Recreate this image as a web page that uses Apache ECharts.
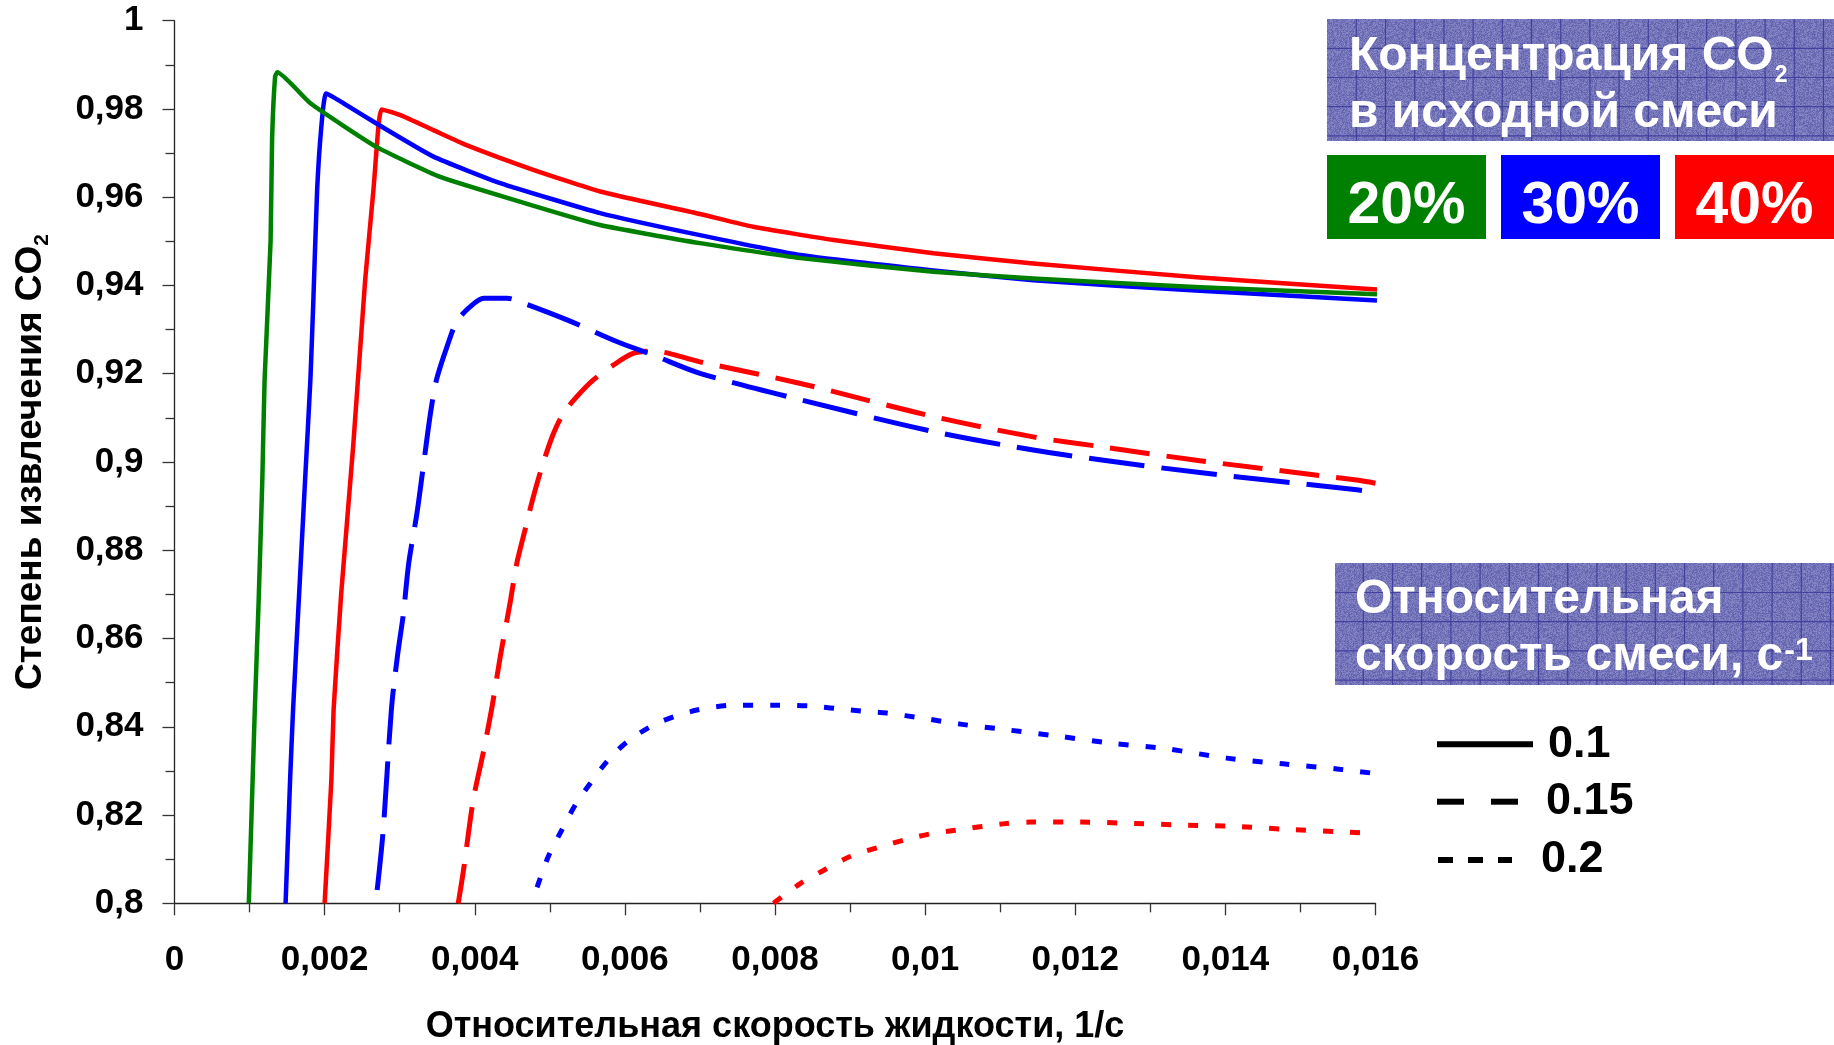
<!DOCTYPE html>
<html>
<head>
<meta charset="utf-8">
<script src="https://cdn.jsdelivr.net/npm/echarts@6/dist/echarts.min.js"></script>
<style>
  html, body { margin: 0; padding: 0; background: #fff; }
  #chart { width: 1834px; height: 1045px; }
</style>
</head>
<body>
<div id="chart"></div>
<script>
// Степень извлечения CO2 в зависимости от относительной скорости жидкости

// Tick labels
const xTickLabels = ['0', '0,002', '0,004', '0,006', '0,008', '0,01', '0,012', '0,014', '0,016'];
const yTickLabels = ['0,8', '0,82', '0,84', '0,86', '0,88', '0,9', '0,92', '0,94', '0,96', '0,98', '1'];

// 20% CO2, скорость смеси 0.1 1/с
const c20_v010_x = [0.00099, 0.00107, 0.00112, 0.00117, 0.00120, 0.00128, 0.00130, 0.00134, 0.00137, 0.00181, 0.00269, 0.00354, 0.00460, 0.00567, 0.00700, 0.00834, 0.01011, 0.01144, 0.01366, 0.01602];
const c20_v010_y = [0.800, 0.844, 0.868, 0.896, 0.9185, 0.950, 0.973, 0.9873, 0.9883, 0.9813, 0.9714, 0.9646, 0.9590, 0.9537, 0.9496, 0.9462, 0.9431, 0.9416, 0.9396, 0.9380];

// 30% CO2, 0.1
const c30_v010_x = [0.00148, 0.00154, 0.00158, 0.00166, 0.00174, 0.00181, 0.00185, 0.00190, 0.00196, 0.00202, 0.00225, 0.00269, 0.00345, 0.00434, 0.00567, 0.00700, 0.00834, 0.01011, 0.01144, 0.01366, 0.01602];
const c30_v010_y = [0.800, 0.828, 0.844, 0.870, 0.896, 0.9185, 0.9367, 0.9616, 0.9767, 0.9835, 0.9813, 0.9767, 0.9692, 0.9632, 0.9564, 0.9514, 0.9469, 0.9434, 0.9412, 0.9388, 0.9366];

// 40% CO2, 0.1
const c40_v010_x = [0.00200, 0.00209, 0.00212, 0.00222, 0.00238, 0.00254, 0.00265, 0.00272, 0.00276, 0.00301, 0.00345, 0.00389, 0.00478, 0.00567, 0.00700, 0.00771, 0.00878, 0.01011, 0.01144, 0.01366, 0.01602];
const c40_v010_y = [0.800, 0.828, 0.844, 0.870, 0.9035, 0.9412, 0.9616, 0.9767, 0.9799, 0.9786, 0.9752, 0.9718, 0.9662, 0.9613, 0.9562, 0.9533, 0.9503, 0.9473, 0.9450, 0.9418, 0.9391];

// 30% CO2, 0.15
const c30_v015_x = [0.00270, 0.00278, 0.00289, 0.00297, 0.00305, 0.00312, 0.00323, 0.00332, 0.00341, 0.00349, 0.00363, 0.00376, 0.00394, 0.00412, 0.00443, 0.00465, 0.00523, 0.00589, 0.00638, 0.00700, 0.00834, 0.01011, 0.01144, 0.01233, 0.01366, 0.01575, 0.01600];
const c30_v015_y = [0.803, 0.8165, 0.844, 0.856, 0.8657, 0.877, 0.8884, 0.8997, 0.911, 0.9186, 0.9261, 0.9318, 0.9352, 0.9371, 0.9371, 0.9360, 0.9322, 0.9273, 0.9242, 0.9201, 0.9141, 0.9069, 0.9027, 0.9005, 0.8976, 0.8937, 0.8932];

// 40% CO2, 0.15
const c40_v015_x = [0.00378, 0.00385, 0.00398, 0.00412, 0.00423, 0.00434, 0.00447, 0.00456, 0.00467, 0.00478, 0.00491, 0.00505, 0.00518, 0.00536, 0.00558, 0.00585, 0.00611, 0.00638, 0.00700, 0.00834, 0.01011, 0.01144, 0.01233, 0.01366, 0.01575, 0.01600];
const c40_v015_y = [0.800, 0.8075, 0.8234, 0.8347, 0.8445, 0.8559, 0.868, 0.877, 0.8846, 0.8921, 0.8997, 0.9065, 0.911, 0.9148, 0.9186, 0.922, 0.9246, 0.9251, 0.9227, 0.9178, 0.9103, 0.9057, 0.9035, 0.9003, 0.8959, 0.8952];

// 30% CO2, 0.2
const c30_v020_x = [0.00483, 0.00498, 0.00516, 0.00534, 0.00554, 0.00576, 0.00603, 0.00643, 0.00696, 0.00749, 0.00798, 0.00847, 0.00900, 0.00949, 0.00998, 0.01047, 0.01100, 0.01176, 0.01247, 0.01322, 0.01402, 0.01477, 0.01551, 0.01600];
const c30_v020_y = [0.8036, 0.8106, 0.8166, 0.8223, 0.8272, 0.8321, 0.8366, 0.8408, 0.8438, 0.8449, 0.8449, 0.8447, 0.8438, 0.8431, 0.8419, 0.8406, 0.8395, 0.8379, 0.8363, 0.8350, 0.8329, 0.8316, 0.8304, 0.8294];

// 40% CO2, 0.2
const c40_v020_x = [0.00798, 0.00834, 0.00865, 0.00900, 0.00940, 0.00976, 0.01006, 0.01042, 0.01104, 0.01140, 0.01207, 0.01278, 0.01351, 0.01406, 0.01477, 0.01553, 0.01600];
const c40_v020_y = [0.800, 0.8045, 0.8075, 0.8106, 0.8128, 0.8145, 0.8157, 0.8166, 0.8180, 0.8184, 0.8184, 0.8181, 0.8177, 0.8175, 0.8168, 0.8162, 0.8158];

const FONT = '"Liberation Sans", Arial, sans-serif';
const GREEN = '#008000', BLUE = '#0000ff', RED = '#ff0000';

function pairs(xs, ys) { return xs.map((x, i) => [x, ys[i]]); }

const curves = [
  { name: '40% / 0.2',  color: RED,   dash: [10, 17], data: pairs(c40_v020_x, c40_v020_y), smooth: 0.3, width: 5 },
  { name: '30% / 0.2',  color: BLUE,  dash: [10, 17], data: pairs(c30_v020_x, c30_v020_y), smooth: 0.3, width: 5 },
  { name: '40% / 0.15', color: RED,   dash: [40, 17], data: pairs(c40_v015_x, c40_v015_y), smooth: 0.3, width: 5 },
  { name: '30% / 0.15', color: BLUE,  dash: [56, 17], data: pairs(c30_v015_x, c30_v015_y), smooth: 0.3, width: 5 },
  { name: '40% / 0.1',  color: RED,   dash: 'solid', data: pairs(c40_v010_x, c40_v010_y), smooth: 0.15, width: 4.5 },
  { name: '30% / 0.1',  color: BLUE,  dash: 'solid', data: pairs(c30_v010_x, c30_v010_y), smooth: 0.15, width: 4.5 },
  { name: '20% / 0.1',  color: GREEN, dash: 'solid', data: pairs(c20_v010_x, c20_v010_y), smooth: 0.15, width: 4.5 }
];

const series = curves.map((c, i) => ({
  name: c.name,
  type: 'line',
  data: c.data,
  showSymbol: false,
  smooth: c.smooth,
  z: 2 + i,
  lineStyle: { color: c.color, width: c.width, type: c.dash, cap: 'butt', join: 'round' }
}));

// ---- legend panels (drawn with graphic elements) ----
const graphics = [];
const PANEL_GRID = '#3a3a9a';

// grainy lavender fill for the panels (deterministic hash grain)
function panelTexture() {
  const size = 128;
  const c = document.createElement('canvas');
  c.width = c.height = size;
  const ctx = c.getContext('2d');
  const img = ctx.createImageData(size, size);
  for (let j = 0; j < size; j++) {
    for (let i = 0; i < size; i++) {
      let h = Math.imul(i, 374761393) ^ Math.imul(j, 668265263);
      h = Math.imul(h ^ (h >>> 13), 1274126177);
      h = h ^ (h >>> 16);
      const n = ((h & 255) / 255 - 0.5) * 44;
      const k = (j * size + i) * 4;
      img.data[k] = 116 + n;
      img.data[k + 1] = 116 + n;
      img.data[k + 2] = 186 + n * 0.7;
      img.data[k + 3] = 255;
    }
  }
  ctx.putImageData(img, 0, 0);
  return c;
}
const panelFill = { image: panelTexture(), repeat: 'repeat' };

const measureCtx = document.createElement('canvas').getContext('2d');
function textWidth(txt, size) {
  measureCtx.font = 'bold ' + size + 'px ' + FONT;
  return measureCtx.measureText(txt).width;
}

function panel(x, y, w, h, step, ox, oy) {
  graphics.push({ type: 'rect', silent: true, shape: { x, y, width: w, height: h }, style: { fill: panelFill } });
  for (let gx = x + ox; gx < x + w; gx += step) {
    graphics.push({ type: 'line', silent: true, shape: { x1: gx, y1: y, x2: gx, y2: y + h }, style: { stroke: PANEL_GRID, lineWidth: 1.2, opacity: 0.85 } });
  }
  for (let gy = y + oy; gy < y + h; gy += step) {
    graphics.push({ type: 'line', silent: true, shape: { x1: x, y1: gy, x2: x + w, y2: gy }, style: { stroke: PANEL_GRID, lineWidth: 1.2, opacity: 0.85 } });
  }
}

// text placed by its baseline
function plainText(txt, x, baseline, size, color, align) {
  graphics.push({
    type: 'text', silent: true, x: x, y: baseline - 0.3465 * size,
    style: {
      text: txt, fill: color, font: 'bold ' + size + 'px ' + FONT,
      align: align || 'left', textAlign: align || 'left',
      verticalAlign: 'middle', textVerticalAlign: 'middle'
    }
  });
}

// panel: концентрация CO2
const PANEL_FS = 48;
panel(1327, 19, 507, 122, 29.2, 29.3, 29.3);
const line1 = 'Концентрация CO';
plainText(line1, 1349, 73, PANEL_FS, '#fff');
plainText('2', 1349 + textWidth(line1, PANEL_FS) + 1, 84, 23, '#fff');
plainText('в исходной смеси', 1349, 130, PANEL_FS, '#fff');

// colour swatches
const swatchLabels = ['20%', '30%', '40%'];
const swatchColors = [GREEN, BLUE, RED];
const swatchX = [1327, 1501, 1675];
swatchLabels.forEach((lab, i) => {
  graphics.push({ type: 'rect', silent: true, shape: { x: swatchX[i], y: 155, width: 159, height: 84 }, style: { fill: swatchColors[i] } });
  plainText(lab, swatchX[i] + 79.5, 227, 59, '#fff', 'center');
});

// panel: относительная скорость смеси
panel(1335, 563, 499, 122, 29.2, 28.3, 29.5);
plainText('Относительная', 1355, 616, PANEL_FS, '#fff');
const line2 = 'скорость смеси, с';
plainText(line2, 1355, 673, PANEL_FS, '#fff');
plainText('-1', 1355 + textWidth(line2, PANEL_FS) + 1, 662, 32, '#fff');

// line-style key
const keyLabels = ['0.1', '0.15', '0.2'];
const keySegments = [
  [[1437, 1533]],
  [[1437, 1464], [1491, 1518]],
  [[1438, 1453], [1468, 1483], [1498, 1512]]
];
const keyY = [744.3, 801.7, 860];
const keyTextX = [1548, 1546, 1541];
const keyBaseline = [760, 817, 875];
keyLabels.forEach((lab, i) => {
  keySegments[i].forEach(seg => {
    graphics.push({ type: 'line', silent: true, shape: { x1: seg[0], y1: keyY[i], x2: seg[1], y2: keyY[i] }, style: { stroke: '#000', lineWidth: 6 } });
  });
  plainText(lab, keyTextX[i], keyBaseline[i], 45, '#000');
});

const axisCommon = {
  type: 'value',
  axisLine: { show: true, onZero: false, lineStyle: { color: '#222', width: 1.3 } },
  axisTick: { show: true, length: 12, lineStyle: { color: '#333', width: 1.3 } },
  minorTick: { show: true, splitNumber: 2, length: 9, lineStyle: { color: '#333', width: 1.3 } },
  splitLine: { show: false },
  minorSplitLine: { show: false }
};

const option = {
  animation: false,
  backgroundColor: '#fff',
  grid: { left: 174.5, right: 458.5, top: 20.7, bottom: 141.7, containLabel: false, outerBoundsMode: 'none' },
  xAxis: Object.assign({}, axisCommon, {
    min: 0, max: 0.016, interval: 0.002,
    axisLabel: {
      margin: 40, fontSize: 35, fontWeight: 'bold', fontFamily: FONT, color: '#000',
      formatter: v => xTickLabels[Math.round(v / 0.002)]
    },
    name: 'Относительная скорость жидкости, 1/с',
    nameLocation: 'middle', nameGap: 106,
    nameTextStyle: { fontSize: 36, lineHeight: 36, fontWeight: 'bold', fontFamily: FONT, color: '#000' }
  }),
  yAxis: Object.assign({}, axisCommon, {
    min: 0.8, max: 1, interval: 0.02,
    axisLabel: {
      margin: 31, fontSize: 35, fontWeight: 'bold', fontFamily: FONT, color: '#000',
      formatter: v => yTickLabels[Math.round((v - 0.8) / 0.02)]
    },
    name: '{m|Степень извлечения CO}{s|2}',
    nameLocation: 'middle', nameGap: 122, nameRotate: 90,
    nameTextStyle: {
      rich: {
        m: { fontSize: 37, fontWeight: 'bold', fontFamily: FONT, color: '#000', lineHeight: 44 },
        s: { fontSize: 21, fontWeight: 'bold', fontFamily: FONT, color: '#000', lineHeight: 22, verticalAlign: 'bottom' }
      }
    }
  }),
  series: series,
  graphic: { elements: graphics }
};

const chart = echarts.init(document.getElementById('chart'), null, { renderer: 'canvas' });
chart.setOption(option);
</script>
</body>
</html>
